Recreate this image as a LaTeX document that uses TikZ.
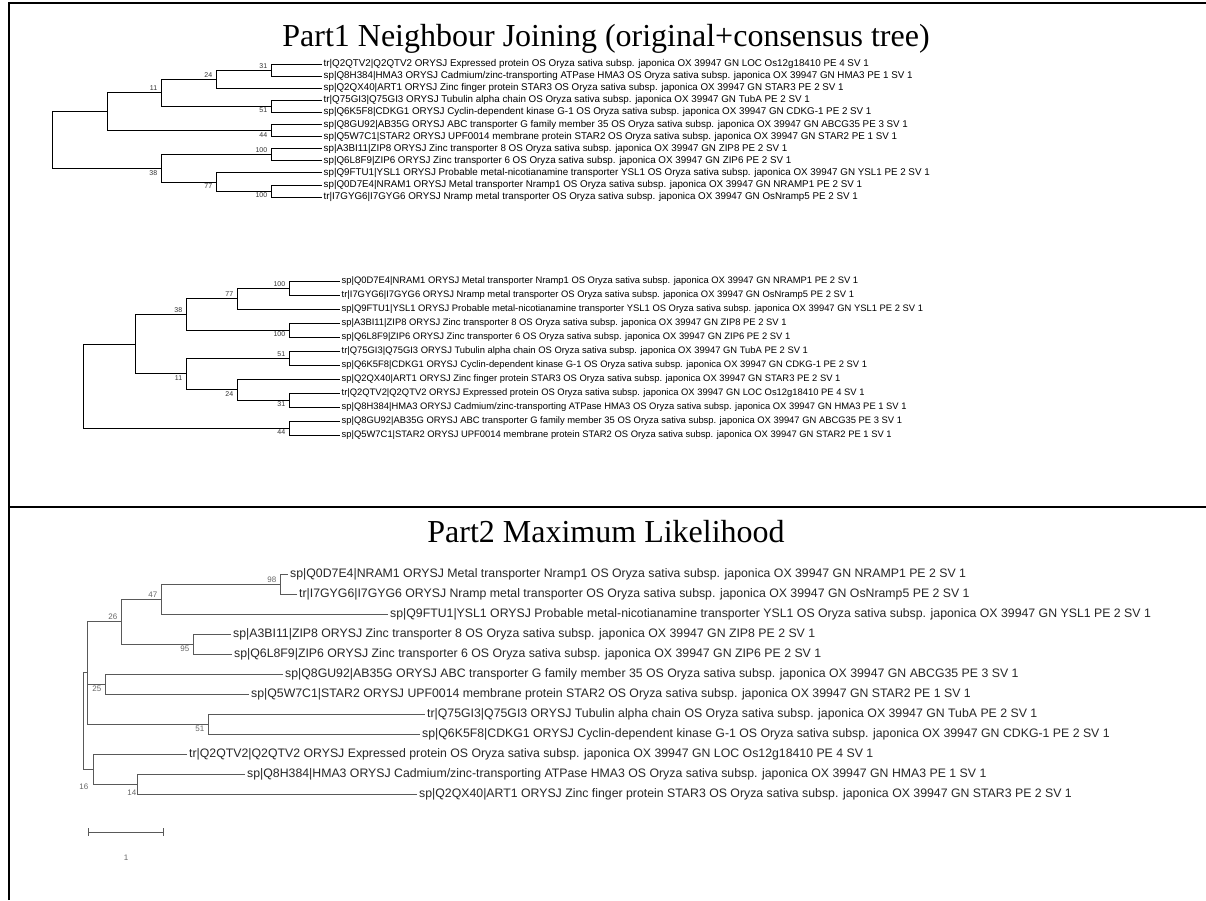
\documentclass[tikz,border=0pt]{standalone}
\usepackage{fontspec}
\setmainfont{Liberation Serif}
\newfontfamily\arialfont{Liberation Sans}

% protein names as printed
\newcommand{\gQTV}{tr|Q2QTV2|Q2QTV2 ORYSJ Expressed protein OS Oryza sativa subsp. japonica OX 39947 GN LOC Os12g18410 PE 4 SV 1}
\newcommand{\gHMA}{sp|Q8H384|HMA3 ORYSJ Cadmium/zinc-transporting ATPase HMA3 OS Oryza sativa subsp. japonica OX 39947 GN HMA3 PE 1 SV 1}
\newcommand{\gART}{sp|Q2QX40|ART1 ORYSJ Zinc finger protein STAR3 OS Oryza sativa subsp. japonica OX 39947 GN STAR3 PE 2 SV 1}
\newcommand{\gTUB}{tr|Q75GI3|Q75GI3 ORYSJ Tubulin alpha chain OS Oryza sativa subsp. japonica OX 39947 GN TubA PE 2 SV 1}
\newcommand{\gCDK}{sp|Q6K5F8|CDKG1 ORYSJ Cyclin-dependent kinase G-1 OS Oryza sativa subsp. japonica OX 39947 GN CDKG-1 PE 2 SV 1}
\newcommand{\gABC}{sp|Q8GU92|AB35G ORYSJ ABC transporter G family member 35 OS Oryza sativa subsp. japonica OX 39947 GN ABCG35 PE 3 SV 1}
\newcommand{\gSTAR}{sp|Q5W7C1|STAR2 ORYSJ UPF0014 membrane protein STAR2 OS Oryza sativa subsp. japonica OX 39947 GN STAR2 PE 1 SV 1}
\newcommand{\gZIPe}{sp|A3BI11|ZIP8 ORYSJ Zinc transporter 8 OS Oryza sativa subsp. japonica OX 39947 GN ZIP8 PE 2 SV 1}
\newcommand{\gZIPs}{sp|Q6L8F9|ZIP6 ORYSJ Zinc transporter 6 OS Oryza sativa subsp. japonica OX 39947 GN ZIP6 PE 2 SV 1}
\newcommand{\gYSL}{sp|Q9FTU1|YSL1 ORYSJ Probable metal-nicotianamine transporter YSL1 OS Oryza sativa subsp. japonica OX 39947 GN YSL1 PE 2 SV 1}
\newcommand{\gNRAM}{sp|Q0D7E4|NRAM1 ORYSJ Metal transporter Nramp1 OS Oryza sativa subsp. japonica OX 39947 GN NRAMP1 PE 2 SV 1}
\newcommand{\gNRAMP}{tr|I7GYG6|I7GYG6 ORYSJ Nramp metal transporter OS Oryza sativa subsp. japonica OX 39947 GN OsNramp5 PE 2 SV 1}

\begin{document}
\begin{tikzpicture}[x=1pt,y=-1pt,
  frame/.style={line width=1.5pt},
  branch/.style={line width=0.9pt},
  mlbranch/.style={line width=0.8pt,black!65},
  ttl/.style={anchor=base,inner sep=0pt,font=\fontsize{32}{34}\selectfont},
  leafa/.style={anchor=west,inner sep=1.5pt,font=\arialfont\fontsize{9.8}{10}\selectfont},
  leafb/.style={leafa,font=\arialfont\fontsize{9.4}{10}\selectfont},
  leafc/.style={anchor=west,inner sep=2pt,text=black!85,font=\arialfont\fontsize{12.3}{13}\selectfont},
  bs/.style={inner sep=0.6pt,text=black!80,font=\arialfont\fontsize{7}{7}\selectfont},
  bsup/.style={bs,anchor=south east,xshift=-3pt,yshift=1pt},
  bsdn/.style={bs,anchor=north east,xshift=-3pt,yshift=-1pt},
  mlup/.style={bsup,text=black!60,font=\arialfont\fontsize{8}{8}\selectfont},
  mldn/.style={bsdn,text=black!60,font=\arialfont\fontsize{8}{8}\selectfont}]

\useasboundingbox (0,0) rectangle (1206,900);

% table lines
\draw[frame] (9,900) -- (9,3) -- (1206,3);
\draw[frame] (9,507) -- (1206,507);

\node[ttl] (ttlA) at (606,46) {Part1 Neighbour Joining (original+consensus tree)};
\node[ttl] (ttlB) at (606,542) {Part2 Maximum Likelihood};

% Part1, original tree
\foreach \prot [count=\i] in {\gQTV,\gHMA,\gART,\gTUB,\gCDK,\gABC,\gSTAR,\gZIPe,\gZIPs,\gYSL,\gNRAM,\gNRAMP}
  \node[leafa] (a\i) at (322,{64+12.1*(\i-1)}) {\prot};
\coordinate (n1g) at (271,70.05);
\coordinate (n1e) at (216,79.1);
\coordinate (n1f) at (271,106.35);
\coordinate (n1c) at (161,92.7);
\coordinate (n1d) at (271,130.55);
\coordinate (n1a) at (107,111.6);
\coordinate (n1h) at (271,154.75);
\coordinate (n1j) at (271,191.05);
\coordinate (n1i) at (216,181.98);
\coordinate (n1b) at (161,168.4);
\coordinate (n1r) at (52,140);
\foreach \p/\c in {n1g/a1,n1g/a2,n1e/n1g,n1e/a3,n1f/a4,n1f/a5,n1c/n1e,n1c/n1f,
    n1d/a6,n1d/a7,n1a/n1c,n1a/n1d,n1h/a8,n1h/a9,n1j/a11,n1j/a12,n1i/a10,n1i/n1j,
    n1b/n1h,n1b/n1i,n1r/n1a,n1r/n1b}
  \draw[branch] (\p) |- (\c);
\node[bsup] (s1g) at (n1g) {31};
\node[bsup] (s1e) at (n1e) {24};
\node[bsup] (s1c) at (n1c) {11};
\node[bsdn] (s1f) at (n1f) {51};
\node[bsdn] (s1d) at (n1d) {44};
\node[bsup] (s1h) at (n1h) {100};
\node[bsdn] (s1b) at (n1b) {38};
\node[bsdn] (s1i) at (n1i) {77};
\node[bsdn] (s1j) at (n1j) {100};

% Part1, consensus tree
\foreach \prot [count=\i] in {\gNRAM,\gNRAMP,\gYSL,\gZIPe,\gZIPs,\gTUB,\gCDK,\gART,\gQTV,\gHMA,\gABC,\gSTAR}
  \node[leafb] (b\i) at (340,{281+14*(\i-1)}) {\prot};
\coordinate (n2a) at (289,288);
\coordinate (n2b) at (237,298.5);
\coordinate (n2c) at (289,330);
\coordinate (n2d) at (186,314.25);
\coordinate (n2e) at (289,358);
\coordinate (n2f) at (289,400);
\coordinate (n2g) at (237,389.5);
\coordinate (n2h) at (186,373.75);
\coordinate (n2p) at (135,344);
\coordinate (n2i) at (289,428);
\coordinate (n2r) at (83,386);
\foreach \p/\c in {n2a/b1,n2a/b2,n2b/n2a,n2b/b3,n2c/b4,n2c/b5,n2d/n2b,n2d/n2c,
    n2e/b6,n2e/b7,n2f/b9,n2f/b10,n2g/b8,n2g/n2f,n2h/n2e,n2h/n2g,n2p/n2d,n2p/n2h,
    n2i/b11,n2i/b12,n2r/n2p,n2r/n2i}
  \draw[branch] (\p) |- (\c);
\node[bsup] (s2a) at (n2a) {100};
\node[bsup] (s2b) at (n2b) {77};
\node[bsdn] (s2c) at (n2c) {100};
\node[bsup] (s2d) at (n2d) {38};
\node[bsup] (s2e) at (n2e) {51};
\node[bsdn] (s2f) at (n2f) {31};
\node[bsdn] (s2g) at (n2g) {24};
\node[bsdn] (s2h) at (n2h) {11};
\node[bsdn] (s2i) at (n2i) {44};

% Part2, maximum likelihood tree
\foreach \prot/\tx [count=\i] in {\gNRAM/288,\gNRAMP/297,\gYSL/388,\gZIPe/231,\gZIPs/232,\gABC/283,
    \gSTAR/249,\gTUB/425,\gCDK/420,\gQTV/187,\gHMA/245,\gART/417}
  \node[leafc] (c\i) at (\tx,{574+20*(\i-1)}) {\prot};
\coordinate (n3a) at (280,584);
\coordinate (n3b) at (161,599);
\coordinate (n3c) at (193,644);
\coordinate (n3d) at (121,621.5);
\coordinate (n3e) at (105,684);
\coordinate (n3f) at (208,724);
\coordinate (n3x) at (87,672.75);
\coordinate (n3g) at (137,784);
\coordinate (n3h) at (93,769);
\coordinate (n3r) at (83,720.9);
\foreach \p/\c in {n3a/c1,n3a/c2,n3b/n3a,n3b/c3,n3c/c4,n3c/c5,n3d/n3b,n3d/n3c,
    n3e/c6,n3e/c7,n3f/c8,n3f/c9,n3x/n3d,n3x/n3e,n3x/n3f,n3g/c11,n3g/c12,
    n3h/c10,n3h/n3g,n3r/n3x,n3r/n3h}
  \draw[mlbranch] (\p) |- (\c);
\node[mlup] (s3a) at (n3a) {98};
\node[mlup] (s3b) at (n3b) {47};
\node[mlup] (s3d) at (n3d) {26};
\node[mldn] (s3c) at (n3c) {95};
\node[mldn] (s3e) at (n3e) {25};
\node[mldn] (s3f) at (n3f) {51};
\node[mldn,xshift=-1pt,yshift=-13pt] (s3h) at (n3h) {16};
\node[mldn,xshift=3pt,yshift=-4pt] (s3g) at (n3g) {14};

% scale bar
\coordinate (sbl) at (88,832);
\coordinate (sbr) at (164,832);
\draw[mlbranch,|-|] (sbl) -- (sbr);
\node[text=black!60,font=\arialfont\fontsize{8}{8}\selectfont] (sbn) at (126,858) {1};
\end{tikzpicture}
\end{document}
